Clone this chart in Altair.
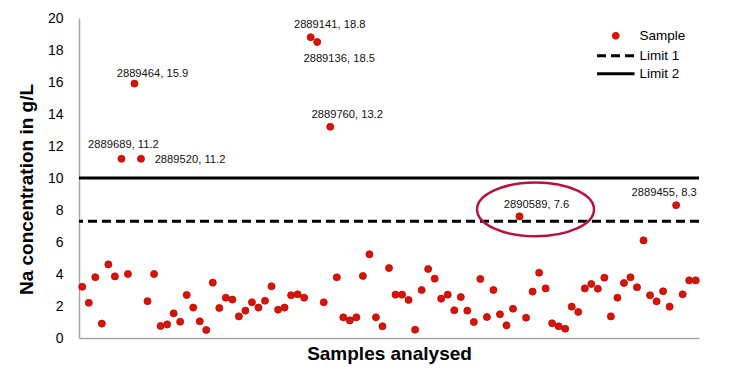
import altair as alt
import pandas as pd

# ---- data ----
na_values = [3.2, 2.2, 3.8, 0.9, 4.6, 3.85, 11.2, 4.0, 15.9, 11.2,
             2.3, 4.0, 0.75, 0.85, 1.54, 1.02, 2.69, 1.9, 1.04, 0.5,
             3.46, 1.88, 2.52, 2.4, 1.35, 1.71, 2.23, 1.9, 2.33, 3.23,
             1.77, 1.9, 2.67, 2.73, 2.52, 18.8, 18.5, 2.23, 13.2, 3.79,
             1.29, 1.1, 1.29, 3.88, 5.23, 1.29, 0.73, 4.37, 2.71, 2.71,
             2.38, 0.52, 3.0, 4.31, 3.71, 2.46, 2.71, 1.73, 2.56, 1.71,
             1.0, 3.69, 1.31, 3.0, 1.48, 0.79, 1.83, 7.6, 1.27, 2.9,
             4.08, 3.1, 0.92, 0.73, 0.58, 1.96, 1.63, 3.1, 3.38, 3.08,
             3.77, 1.35, 2.52, 3.44, 3.79, 3.17, 6.1, 2.67, 2.29, 2.92,
             1.96, 8.3, 2.73, 3.6, 3.6]
sample_index = list(range(len(na_values)))

labelled_index = [6, 8, 9, 35, 36, 38, 67, 91]
labelled_ids = ["2889689", "2889464", "2889520", "2889141",
                "2889136", "2889760", "2890589", "2889455"]
# label placement offsets (px) relative to each point
label_offsets = [(2, -14), (18, -10), (49, 1), (19, -12),
                 (22, 17), (17, -12), (17, -11), (-12, -12)]

limit_names = ["Limit 1", "Limit 2"]
limit_values = [7.3, 10.0]

y_tick_values = [0, 2, 4, 6, 8, 10, 12, 14, 16, 18, 20]

highlight_index = 67  # circled sample

series_domain = ["Sample", "Limit 1", "Limit 2"]

FONT = "Liberation Sans"

df = pd.DataFrame({"idx": sample_index, "na": na_values, "series": "Sample"})
lim_df = pd.DataFrame({"series": limit_names, "idx": [0, 0], "value": limit_values})

x_scale = alt.Scale(domain=[-0.5, len(na_values) - 0.5], nice=False, zero=False)
y_scale = alt.Scale(domain=[0, 20], nice=False)

color_scale = alt.Scale(domain=series_domain, range=["#dd1100", "black", "black"])
shape_scale = alt.Scale(domain=series_domain,
                        range=["circle", "M -8 0 L 8 0", "M -8 0 L 8 0"])
dash_scale = alt.Scale(domain=series_domain, range=[[1, 0], [9, 5], [1, 0]])

legend = alt.Legend(title=None, orient="none", legendX=530, legendY=11,
                    labelFont=FONT, labelFontSize=13.5, labelColor="black",
                    symbolSize=22, symbolStrokeWidth=3, labelOffset=17,
                    rowPadding=3, padding=0)

x_axis = alt.Axis(labels=False, ticks=False, grid=False, domainColor="#a6a6a6",
                  domainWidth=1.5, title="Samples analysed", titleFont=FONT,
                  titleFontSize=19, titleFontWeight="bold", titlePadding=6,
                  titleColor="black")
y_axis = alt.Axis(values=y_tick_values, ticks=False, grid=False,
                  labelOverlap=False, domainColor="#a6a6a6", domainWidth=1.5,
                  labelFont=FONT, labelFontSize=14, labelColor="black",
                  labelPadding=16, title="Na concentration in g/L",
                  titleFont=FONT, titleFontSize=19, titleFontWeight="bold",
                  titleColor="black", titlePadding=11, titleY=171)

X = alt.X("idx:Q", scale=x_scale, axis=x_axis)

points = alt.Chart(df).mark_point(filled=True, size=50, opacity=1,
                                  stroke="#a81010", strokeWidth=0.8).encode(
    x=X,
    y=alt.Y("na:Q", scale=y_scale, axis=y_axis),
    color=alt.Color("series:N", scale=color_scale, legend=legend),
    shape=alt.Shape("series:N", scale=shape_scale, legend=legend),
)

rules = alt.Chart(lim_df).mark_rule(strokeWidth=3).encode(
    y=alt.Y("value:Q", scale=y_scale, axis=y_axis),
    color=alt.Color("series:N", scale=color_scale, legend=legend),
    strokeDash=alt.StrokeDash("series:N", scale=dash_scale, legend=legend),
)

layers = [points, rules]

for i, sid, (dx, dy) in zip(labelled_index, labelled_ids, label_offsets):
    ldf = pd.DataFrame({"idx": [i], "na": [na_values[i]],
                        "label": [f"{sid}, {na_values[i]:.1f}"]})
    layers.append(
        alt.Chart(ldf).mark_text(font=FONT, fontSize=11.2, color="#111",
                                 dx=dx, dy=dy, align="center",
                                 baseline="middle").encode(
            x=X,
            y=alt.Y("na:Q", scale=y_scale, axis=y_axis),
            text="label:N",
        )
    )

ell_df = pd.DataFrame({"idx": [highlight_index], "na": [na_values[highlight_index]]})
ellipse = alt.Chart(ell_df).mark_point(
    shape="M -1 0 A 1 0.46 0 1 1 1 0 A 1 0.46 0 1 1 -1 0 Z",
    size=117 * 117, filled=False, stroke="#b5123e", strokeWidth=2.5,
    opacity=1, xOffset=16, yOffset=-7,
).encode(
    x=X,
    y=alt.Y("na:Q", scale=y_scale, axis=y_axis),
)
layers.append(ellipse)

chart = alt.layer(*layers).properties(
    width=620, height=320,
    autosize=alt.AutoSizeParams(type="none"),
    padding={"left": 79, "top": 18, "right": 31, "bottom": 54},
    background="white",
).configure_view(stroke=None)

chart.save("out.html", embed_options={"renderer": "svg", "actions": False})
